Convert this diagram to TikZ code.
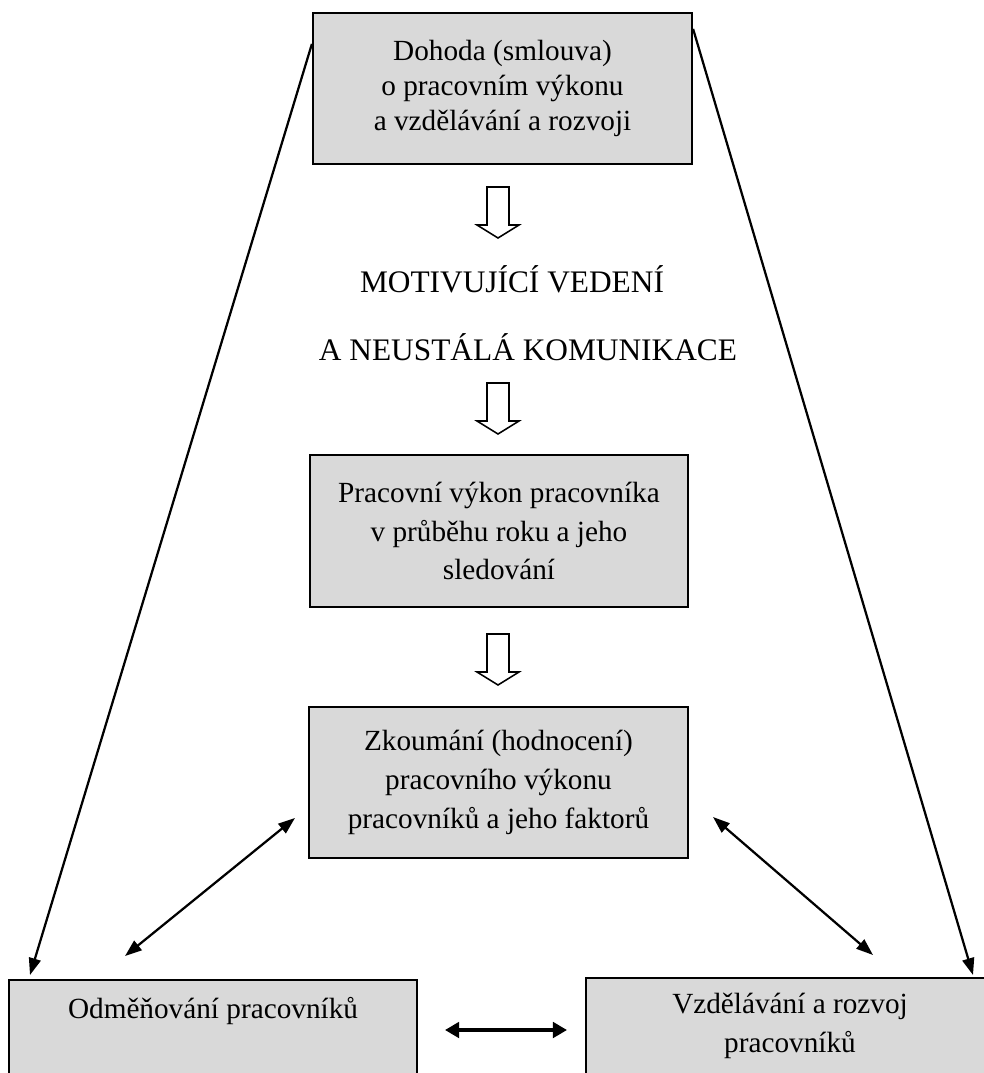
\documentclass[tikz,border=0pt]{standalone}
\usepackage{fontspec}
\setmainfont{Liberation Serif}
\usetikzlibrary{arrows.meta}

\tikzset{
  box/.style={draw, line width=1.5pt, fill=black!15, align=center, inner sep=0pt},
  oneway/.style={line width=1.6pt, -{Triangle[length=12pt,width=8.5pt]}},
  twoway/.style={line width=1.6pt, {Triangle[length=12pt,width=8.5pt]}-{Triangle[length=12pt,width=8.5pt]}},
  thickway/.style={line width=2.4pt, {Triangle[length=10pt,width=11pt]}-{Triangle[length=10pt,width=11pt]}},
  hollowdown/.pic={
    \draw[line width=1.1pt, fill=white] (-11,0) -- (11,0) -- (11,38) -- (21,38)
      -- (0,51) -- (-21,38) -- (-11,38) -- cycle;
  }
}

\begin{document}
\begin{tikzpicture}[x=0.025cm, y=-0.025cm, font=\fontsize{20.8}{27.6}\selectfont]
	\clip (0,0) rectangle (984,1073);
	\useasboundingbox (0,0) rectangle (984,1073);

	% boxes and texts
	\node[box, minimum width=9.475cm, minimum height=3.775cm, font=\fontsize{20.8}{24.8}\selectfont] (dohoda) at (502.5,88.5) {Dohoda (smlouva)\\o pracovním výkonu\\a vzdělávání a rozvoji};
	\node[anchor=base, font=\fontsize{22.3}{27}\selectfont] (motiv) at (512,292) {MOTIVUJÍCÍ VEDENÍ};
	\node[anchor=base, font=\fontsize{22.3}{27}\selectfont] (komun) at (528,360) {A NEUSTÁLÁ KOMUNIKACE};
	\node[box, minimum width=9.45cm, minimum height=3.8cm] (vykon) at (499,531) {Pracovní výkon pracovníka\\v průběhu roku a jeho\\sledování};
	\node[box, minimum width=9.475cm, minimum height=3.775cm] (zkoum) at (498.5,782.5) {Zkoumání (hodnocení)\\pracovního výkonu\\pracovníků a jeho faktorů};
	\node[box, anchor=north, minimum width=10.2cm, inner ysep=0.42cm, text depth=3cm] (odmen) at (213,979) {Odměňování pracovníků};
	\node[box, anchor=north, minimum width=10.2cm, inner ysep=0.38cm, text depth=3cm] (vzdel) at (790,977) {Vzdělávání a rozvoj\\pracovníků};

	% hollow arrows
	\pic at (498,187) {hollowdown};
	\pic at (498,383) {hollowdown};
	\pic at (498,634) {hollowdown};

	% connector ends
	\coordinate (odmen tip) at (30,975);
	\coordinate (vzdel tip) at (973,975);
	\coordinate (zkoum left) at (295,818);
	\coordinate (zkoum right) at (713,817);
	\coordinate (odmen top) at (125,956);
	\coordinate (vzdel top) at (873,955);
	\coordinate (odmen end) at (445,1030);
	\coordinate (vzdel end) at (567,1030);

	\draw[oneway] ([yshift=-0.8cm]dohoda.north west) -- (odmen tip);
	\draw[oneway] ([yshift=-0.425cm]dohoda.north east) -- (vzdel tip);
	\draw[twoway] (zkoum left) -- (odmen top);
	\draw[twoway] (zkoum right) -- (vzdel top);
	\draw[thickway] (odmen end) -- (vzdel end);
\end{tikzpicture}
\end{document}
